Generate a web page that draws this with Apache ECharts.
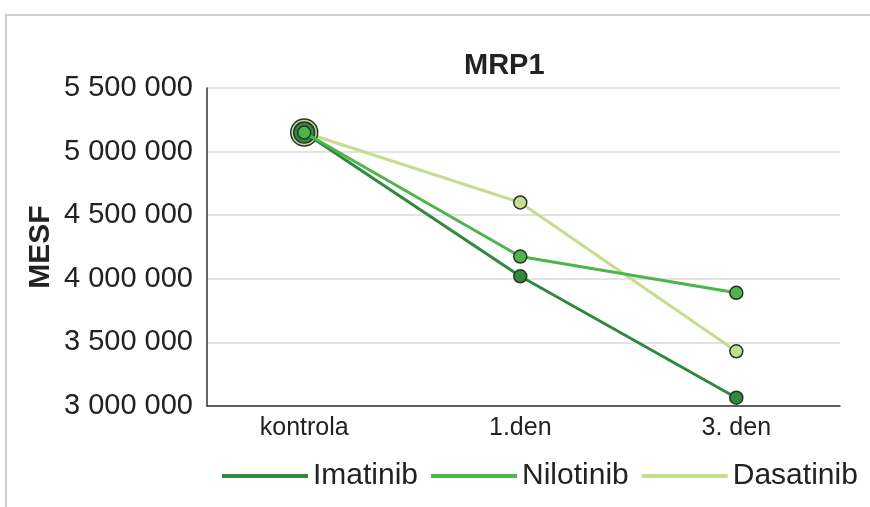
<!DOCTYPE html>
<html>
<head>
<meta charset="utf-8">
<script src="https://cdn.jsdelivr.net/npm/echarts@6/dist/echarts.min.js"></script>
<style>
  html, body { margin: 0; padding: 0; background: #ffffff; }
  #frame { position: absolute; left: 5px; top: 14px; width: 865px; height: 493px;
           border-top: 2px solid #cdcdcd; border-left: 2px solid #cdcdcd; box-sizing: border-box; }
  #chart { position: absolute; left: 0; top: 0; width: 870px; height: 507px; }
</style>
</head>
<body>
<div id="frame"></div>
<div id="chart"></div>
<script>
const categories = ['kontrola', '1.den', '3. den'];
const seriesNames = ['Imatinib', 'Nilotinib', 'Dasatinib'];
const imatinib = [5150000, 4020000, 3065000];
const nilotinib = [5150000, 4175000, 3890000];
const dasatinib = [5150000, 4600000, 3430000];
const yTicks = [3000000, 3500000, 4000000, 4500000, 5000000, 5500000];

const colors = { Imatinib: '#2f8a3f', Nilotinib: '#4db64a', Dasatinib: '#c5dd8e' };
const firstSize = { Imatinib: 21, Nilotinib: 13, Dasatinib: 27 };
const zOrder = { Imatinib: 3, Nilotinib: 4, Dasatinib: 2 };
const FONT = "'Liberation Sans', Arial, sans-serif";

function fmt(v) {
  return String(v).replace(/\B(?=(\d{3})+(?!\d))/g, ' ');
}

function build(name, values) {
  return {
    name: name,
    type: 'line',
    z: zOrder[name],
    data: values.map((v, i) => i === 0
      ? { value: [i, v], symbolSize: firstSize[name] }
      : { value: [i, v] }),
    symbol: 'circle',
    symbolSize: 13,
    lineStyle: { color: colors[name], width: 3 },
    itemStyle: { color: colors[name], borderColor: '#26352a', borderWidth: 1.5 },
    emphasis: { disabled: true },
    animation: false
  };
}

const chart = echarts.init(document.getElementById('chart'), null, { renderer: 'canvas' });
chart.setOption({
  backgroundColor: 'transparent',
  animation: false,
  title: {
    text: 'MRP1',
    left: 459,
    top: 46,
    textStyle: { fontFamily: FONT, fontSize: 29, fontWeight: 'bold', color: '#222' }
  },
  legend: {
    data: seriesNames,
    left: 217,
    top: 456,
    icon: 'rect',
    itemWidth: 86,
    itemHeight: 4,
    itemGap: 13,
    itemStyle: { borderWidth: 0 },
    textStyle: { fontFamily: FONT, fontSize: 30, color: '#222' }
  },
  grid: { left: 207, right: 30, top: 88, bottom: 101, containLabel: false },
  xAxis: {
    type: 'value',
    min: -0.45,
    max: 2.48,
    axisLine: { show: true, onZero: false, lineStyle: { color: '#333', width: 1.5 } },
    axisTick: { show: false },
    splitLine: { show: false },
    axisLabel: {
      customValues: categories.map((c, i) => i),
      formatter: v => categories[Math.round(v)],
      fontFamily: FONT, fontSize: 25, color: '#222', margin: 10
    }
  },
  yAxis: {
    type: 'value',
    min: yTicks[0],
    max: yTicks[yTicks.length - 1],
    interval: 500000,
    name: 'MESF',
    nameLocation: 'middle',
    nameRotate: 90,
    nameGap: 151,
    nameMoveOverlap: false,
    nameTextStyle: { fontFamily: FONT, fontSize: 30, fontWeight: 'bold', color: '#222' },
    axisLine: { show: true, onZero: false, lineStyle: { color: '#333', width: 1.5 } },
    axisTick: { show: false },
    splitLine: { show: true, lineStyle: { color: '#dadada', width: 1.5 } },
    axisLabel: {
      formatter: v => fmt(v),
      fontFamily: FONT, fontSize: 29, color: '#222', margin: 14
    }
  },
  series: [
    build('Imatinib', imatinib),
    build('Nilotinib', nilotinib),
    build('Dasatinib', dasatinib)
  ]
});
</script>
</body>
</html>
